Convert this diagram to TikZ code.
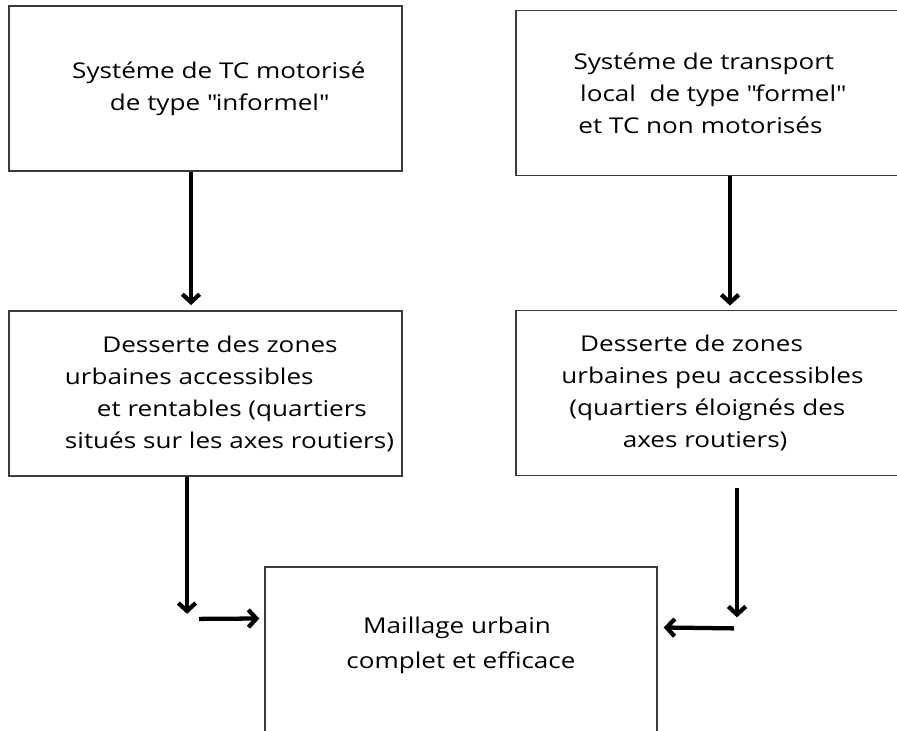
\documentclass[tikz,border=0pt]{standalone}
\usepackage{fontspec}
\setmainfont{Open Sans}[FakeStretch=1.2]
\usepackage{tikz}
\usetikzlibrary{arrows.meta,positioning,calc}
\definecolor{frameGrey}{HTML}{3A3A3A}

\begin{document}
\begin{tikzpicture}[x=0.75pt, y=-0.75pt,
  font=\fontsize{16.3pt}{24pt}\selectfont,
  box/.style={draw=frameGrey, line width=1.1pt, minimum width=294.5pt,
              minimum height=124pt, align=center, inner sep=0pt},
  arr/.style={-{Straight Barb[length=6pt,width=13pt]}, line width=3.2pt}]

\useasboundingbox (0,0) rectangle (897,731);

% top row
\node[box] (sysInf) at (205.5,88.5) {\hspace*{20pt}Systéme de TC motorisé\\ \hspace*{20pt}de type \textquotedbl informel\textquotedbl};
\node[box] (sysLoc) at (712.5,93) {Systéme de transport\hspace*{13pt}\\ local\ \ de type \textquotedbl formel\textquotedbl\hspace*{11pt}\\ et TC non motorisés\hspace*{18pt}};

% middle row
\node[box, align=left] (desAcc) at (205.5,393.5) {\hspace*{64pt}Desserte des zones\\ \hspace*{36pt}urbaines accessibles\\ \hspace*{60pt}et rentables (quartiers\\ \hspace*{36pt}situés sur les axes routiers)};
\node[box, align=left] (desPeu) at (712.5,393) {\hspace*{14pt}Desserte de zones\\ urbaines peu accessibles\hspace*{24pt}\\ \hspace*{6pt}(quartiers éloignés des\\ \hspace*{46pt}axes routiers)};

% bottom
\node[box, minimum width=294pt] (maill) at (461,649.5) {Maillage urbain\hspace*{6pt}\\[2pt] complet et efficace\hspace*{6pt}\\[-14pt]\mbox{}};

\coordinate (downL) at ($(desAcc.south)+(-18.5,137)$);
\coordinate (downR) at ($(desPeu.south)+(24.5,141)$);

\draw[arr] ($(sysInf.south)+(-14.5,0)$) -- ($(desAcc.north)+(-14.5,-5)$);
\draw[arr] ($(sysLoc.south)+(17.5,0)$) -- ($(desPeu.north)+(17.5,-4)$);
\draw[arr] ($(desAcc.south)+(-18.5,0)$) -- (downL);
\draw[arr] ($(downL)+(12,5)$) -- ($(maill.west)+(-5,-31)$);
\draw[arr] ($(desPeu.south)+(24.5,12)$) -- (downR);
\draw[arr] ($(downR)+(-3,11)$) -- ($(maill.east)+(6,-22)$);
\end{tikzpicture}
\end{document}
